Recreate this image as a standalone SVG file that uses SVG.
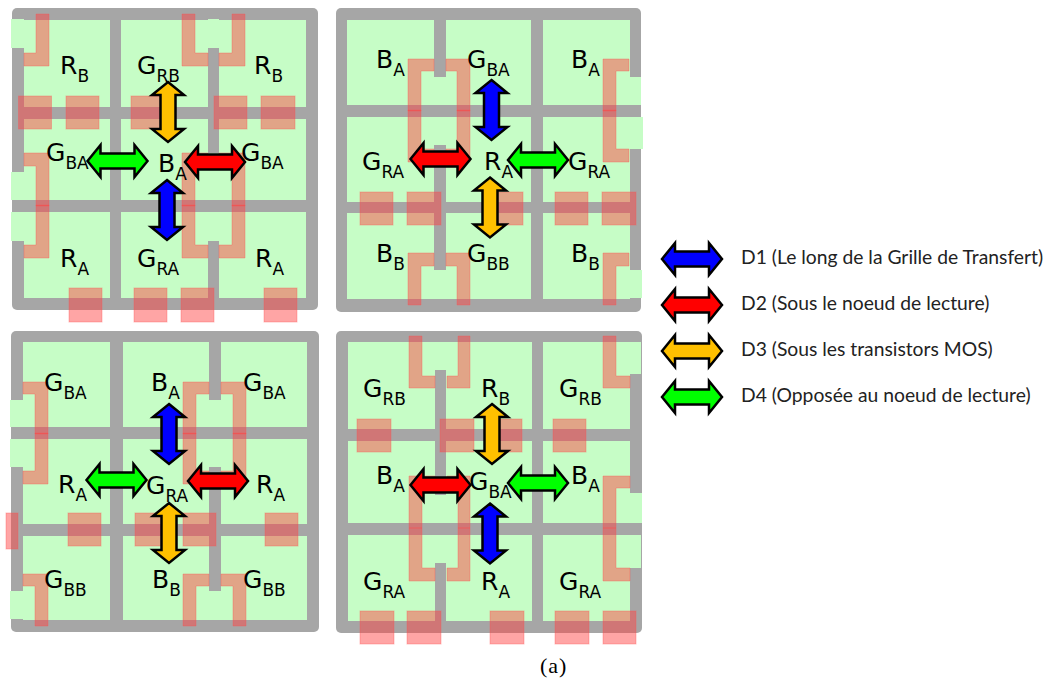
<svg xmlns="http://www.w3.org/2000/svg" xmlns:xlink="http://www.w3.org/1999/xlink" width="1048" height="682" viewBox="0 0 1048 682">
<style>
.frame{fill:#a6a6a6}
.g{fill:#c6fdc6}
.r{fill:#ff4040;fill-opacity:.47;stroke:#ff5050;stroke-opacity:.35;stroke-width:1}
.a{stroke:#000;stroke-width:2.5;stroke-linejoin:miter}
.d1{fill:#0000ff}.d2{fill:#ff0000}.d3{fill:#ffc000}.d4{fill:#00ff00}
.t{font-family:"DejaVu Sans",sans-serif;font-size:25px;fill:#000}
.t tspan{font-size:17px}
.l{font-family:"Lato","Open Sans",sans-serif;font-size:19.3px;fill:#222}
.c{font-family:"Liberation Serif",serif;font-size:22px;letter-spacing:1px;fill:#000}
</style>
<defs>
<polygon id="arrow" points="-30,0 -17,-16 -17,-7.500 17,-7.500 17,-16 30,0 17,16 17,7.500 -17,7.500 -17,16"/>
</defs>
<rect width="1048" height="682" fill="#fff"/>

<g id="panel-tl">
<rect class="frame" x="12" y="8" width="306" height="302" rx="5"/>
<g class="g">
<rect x="24" y="20" width="86" height="87"/><rect x="121" y="20" width="87" height="87"/><rect x="219" y="20" width="87" height="87"/>
<rect x="24" y="119" width="86" height="81"/><rect x="121" y="119" width="87" height="81"/><rect x="219" y="119" width="87" height="81"/>
<rect x="24" y="212" width="86" height="86"/><rect x="121" y="212" width="87" height="86"/><rect x="219" y="212" width="87" height="86"/>
<rect x="11" y="19" width="13" height="29"/><rect x="11" y="172" width="13" height="28"/><rect x="11" y="212" width="13" height="29"/>
<rect x="208" y="19" width="11" height="29"/><rect x="208" y="153" width="11" height="47"/><rect x="208" y="212" width="11" height="29"/>
</g>
<g class="r">
<rect x="18.500" y="96" width="33" height="33"/><rect x="66" y="96" width="33" height="33"/><rect x="131" y="96" width="33" height="33"/><rect x="214" y="96" width="33" height="33"/><rect x="261" y="96" width="34" height="33"/>
<rect x="69" y="288" width="33" height="34"/><rect x="134" y="288" width="33" height="34"/><rect x="181" y="288" width="33" height="34"/><rect x="264" y="288" width="33" height="34"/>
<polygon points="36,14 49,14 49,66 24,66 24,53 36,53"/>
<polygon points="182,14 195,14 195,53 208,53 208,66 182,66"/>
<polygon points="232,14 245,14 245,66 219,66 219,53 232,53"/>
<polygon points="24,153 49,153 49,206 36,206 36,166 24,166"/>
<polygon points="36,205 49,205 49,258 24,258 24,245 36,245"/>
<polygon points="182,153 208,153 208,166 195,166 195,206 182,206"/>
<polygon points="219,153 245,153 245,206 232,206 232,166 219,166"/>
<polygon points="182,205 195,205 195,245 208,245 208,258 182,258"/>
<polygon points="232,205 245,205 245,258 219,258 219,245 232,245"/>
</g>
<text class="t" x="60" y="74">R<tspan dy="8">B</tspan></text>
<text class="t" x="137" y="74">G<tspan dy="8">RB</tspan></text>
<text class="t" x="254" y="74">R<tspan dy="8">B</tspan></text>
<text class="t" x="46" y="161">G<tspan dy="8">BA</tspan></text>
<text class="t" x="158" y="172">B<tspan dy="8">A</tspan></text>
<text class="t" x="241" y="161">G<tspan dy="8">BA</tspan></text>
<text class="t" x="60" y="267">R<tspan dy="8">A</tspan></text>
<text class="t" x="137" y="267">G<tspan dy="8">RA</tspan></text>
<text class="t" x="255" y="267">R<tspan dy="8">A</tspan></text>
</g>

<g id="panel-tr">
<rect class="frame" x="336" y="8" width="305" height="304" rx="5"/>
<g class="g">
<rect x="347" y="20" width="87" height="85"/><rect x="446" y="20" width="85" height="85"/><rect x="543" y="20" width="87" height="85"/>
<rect x="347" y="117" width="87" height="85"/><rect x="446" y="117" width="85" height="85"/><rect x="543" y="117" width="87" height="85"/>
<rect x="347" y="213" width="87" height="86"/><rect x="446" y="213" width="85" height="86"/><rect x="543" y="213" width="87" height="86"/>
<rect x="434" y="77" width="12" height="28"/><rect x="434" y="117" width="12" height="28"/><rect x="434" y="270" width="12" height="29"/>
<rect x="630" y="77" width="11" height="28"/><rect x="630" y="117" width="13" height="32"/><rect x="630" y="270" width="12" height="28"/>
</g>
<g class="r">
<rect x="360" y="192" width="33" height="33"/><rect x="407" y="192" width="34" height="33"/><rect x="490" y="192" width="33" height="33"/><rect x="555" y="192" width="33" height="33"/><rect x="602" y="192" width="34" height="33"/>
<polygon points="408,59 434,59 434,71 421,71 421,111 408,111"/>
<polygon points="446,59 470,59 470,111 457,111 457,71 446,71"/>
<polygon points="603,59 629,59 629,71 616,71 616,111 603,111"/>
<polygon points="408,110 421,110 421,149 434,149 434,162 408,162"/>
<polygon points="457,110 470,110 470,162 446,162 446,149 457,149"/>
<polygon points="603,110 616,110 616,149 629,149 629,162 603,162"/>
<polygon points="408,253 434,253 434,266 421,266 421,305 408,305"/>
<polygon points="446,253 470,253 470,305 457,305 457,266 446,266"/>
<polygon points="603,253 629,253 629,266 616,266 616,305 603,305"/>
</g>
<text class="t" x="376" y="68">B<tspan dy="8">A</tspan></text>
<text class="t" x="467" y="68">G<tspan dy="8">BA</tspan></text>
<text class="t" x="571" y="68">B<tspan dy="8">A</tspan></text>
<text class="t" x="362" y="170">G<tspan dy="8">RA</tspan></text>
<text class="t" x="484" y="170">R<tspan dy="8">A</tspan></text>
<text class="t" x="568" y="170">G<tspan dy="8">RA</tspan></text>
<text class="t" x="376" y="262">B<tspan dy="8">B</tspan></text>
<text class="t" x="467" y="262">G<tspan dy="8">BB</tspan></text>
<text class="t" x="571" y="262">B<tspan dy="8">B</tspan></text>
</g>

<g id="panel-bl">
<rect class="frame" x="11" y="331" width="308" height="301" rx="5"/>
<g class="g">
<rect x="23" y="342" width="87" height="85"/><rect x="123" y="342" width="86" height="85"/><rect x="221" y="342" width="86" height="85"/>
<rect x="23" y="439" width="87" height="85"/><rect x="123" y="439" width="86" height="85"/><rect x="221" y="439" width="86" height="85"/>
<rect x="23" y="536" width="87" height="84"/><rect x="123" y="536" width="86" height="84"/><rect x="221" y="536" width="86" height="84"/>
<rect x="10" y="400" width="13" height="27"/><rect x="10" y="439" width="13" height="28"/><rect x="10" y="591" width="13" height="28"/>
<rect x="209" y="400" width="12" height="27"/><rect x="209" y="439" width="12" height="28"/><rect x="209" y="591" width="12" height="29"/>
</g>
<g class="r">
<rect x="6" y="513" width="12" height="36"/>
<rect x="68" y="513" width="33" height="33"/><rect x="135" y="513" width="33" height="33"/><rect x="183" y="513" width="33" height="33"/><rect x="265" y="513" width="33" height="33"/>
<polygon points="23,382 48,382 48,434 35,434 35,394 23,394"/>
<polygon points="35,433 48,433 48,484 23,484 23,471 35,471"/>
<polygon points="183,382 209,382 209,394 196,394 196,434 183,434"/>
<polygon points="183,433 196,433 196,471 209,471 209,484 183,484"/>
<polygon points="221,382 246,382 246,434 233,434 233,394 221,394"/>
<polygon points="233,433 246,433 246,484 221,484 221,471 233,471"/>
<polygon points="23,574 48,574 48,626 35,626 35,586 23,586"/>
<polygon points="183,574 209,574 209,586 196,586 196,626 183,626"/>
<polygon points="221,574 246,574 246,626 233,626 233,586 221,586"/>
</g>
<text class="t" x="44" y="391">G<tspan dy="8">BA</tspan></text>
<text class="t" x="151" y="391">B<tspan dy="8">A</tspan></text>
<text class="t" x="243" y="391">G<tspan dy="8">BA</tspan></text>
<text class="t" x="58" y="493">R<tspan dy="8">A</tspan></text>
<text class="t" x="146" y="494">G<tspan dy="8">RA</tspan></text>
<text class="t" x="256" y="493">R<tspan dy="8">A</tspan></text>
<text class="t" x="44" y="588">G<tspan dy="8">BB</tspan></text>
<text class="t" x="152" y="588">B<tspan dy="8">B</tspan></text>
<text class="t" x="243" y="588">G<tspan dy="8">BB</tspan></text>
</g>

<g id="panel-br">
<rect class="frame" x="336" y="331" width="306" height="302" rx="5"/>
<g class="g">
<rect x="348" y="342" width="87" height="87"/><rect x="446" y="342" width="86" height="87"/><rect x="543" y="342" width="87" height="87"/>
<rect x="348" y="441" width="87" height="82"/><rect x="446" y="441" width="86" height="82"/><rect x="543" y="441" width="87" height="82"/>
<rect x="348" y="535" width="87" height="86"/><rect x="446" y="535" width="86" height="86"/><rect x="543" y="535" width="87" height="86"/>
<rect x="435" y="342" width="11" height="28"/><rect x="435" y="495" width="11" height="28"/><rect x="435" y="535" width="11" height="28"/>
<rect x="630" y="342" width="11" height="32"/><rect x="630" y="493" width="12" height="30"/><rect x="630" y="535" width="11" height="33"/>
</g>
<g class="r">
<rect x="357" y="419" width="34" height="33"/><rect x="440" y="419" width="34" height="33"/><rect x="488" y="419" width="34" height="33"/><rect x="553" y="419" width="33" height="33"/>
<rect x="360" y="611" width="34" height="33"/><rect x="407" y="611" width="34" height="33"/><rect x="490" y="611" width="34" height="33"/><rect x="555" y="611" width="34" height="33"/><rect x="603" y="611" width="33" height="33"/>
<polygon points="409,336 422,336 422,376 435,376 435,388 409,388"/>
<polygon points="458,336 470,336 470,388 447,388 447,376 458,376"/>
<polygon points="603,336 616,336 616,376 630,376 630,388 603,388"/>
<polygon points="409,476 435,476 435,488 422,488 422,528 409,528"/>
<polygon points="447,476 470,476 470,528 458,528 458,488 447,488"/>
<polygon points="603,476 630,476 630,488 616,488 616,528 603,528"/>
<polygon points="409,528 422,528 422,568 435,568 435,581 409,581"/>
<polygon points="458,528 470,528 470,581 447,581 447,568 458,568"/>
<polygon points="603,528 616,528 616,568 630,568 630,581 603,581"/>
</g>
<text class="t" x="363" y="397">G<tspan dy="8">RB</tspan></text>
<text class="t" x="481" y="397">R<tspan dy="8">B</tspan></text>
<text class="t" x="559" y="397">G<tspan dy="8">RB</tspan></text>
<text class="t" x="376" y="484">B<tspan dy="8">A</tspan></text>
<text class="t" x="469" y="490">G<tspan dy="8">BA</tspan></text>
<text class="t" x="571" y="484">B<tspan dy="8">A</tspan></text>
<text class="t" x="363" y="590">G<tspan dy="8">RA</tspan></text>
<text class="t" x="481" y="590">R<tspan dy="8">A</tspan></text>
<text class="t" x="559" y="590">G<tspan dy="8">RA</tspan></text>
</g>

<g id="connectors" class="a">
<use href="#arrow" class="d3" transform="translate(168,112) rotate(90)"/>
<use href="#arrow" class="d4" transform="translate(117.500,161)"/>
<use href="#arrow" class="d2" transform="translate(215,162)"/>
<use href="#arrow" class="d1" transform="translate(167,210) rotate(90)"/>
<use href="#arrow" class="d1" transform="translate(491.500,110) rotate(90)"/>
<use href="#arrow" class="d2" transform="translate(440.500,159)"/>
<use href="#arrow" class="d4" transform="translate(538,160)"/>
<use href="#arrow" class="d3" transform="translate(490,207.500) rotate(90)"/>
<use href="#arrow" class="d1" transform="translate(169,434) rotate(90)"/>
<use href="#arrow" class="d4" transform="translate(116.500,480)"/>
<use href="#arrow" class="d2" transform="translate(218,481)"/>
<use href="#arrow" class="d3" transform="translate(169,533) rotate(90)"/>
<use href="#arrow" class="d3" transform="translate(492,434) rotate(90)"/>
<use href="#arrow" class="d2" transform="translate(440.500,485)"/>
<use href="#arrow" class="d4" transform="translate(538,483)"/>
<use href="#arrow" class="d1" transform="translate(490,533.500) rotate(90)"/>
</g>

<g id="legend">
<g class="a">
<use href="#arrow" class="d1" transform="translate(692,259)"/>
<use href="#arrow" class="d2" transform="translate(692,305)"/>
<use href="#arrow" class="d3" transform="translate(692,351)"/>
<use href="#arrow" class="d4" transform="translate(692,397)"/>
</g>
<text class="l" x="741" y="264">D1 (Le long de la Grille de Transfert)</text>
<text class="l" x="741" y="310">D2 (Sous le noeud de lecture)</text>
<text class="l" x="741" y="356">D3 (Sous les transistors MOS)</text>
<text class="l" x="741" y="402">D4 (Opposée au noeud de lecture)</text>
</g>
<text class="c" x="540" y="673">(a)</text>
</svg>
